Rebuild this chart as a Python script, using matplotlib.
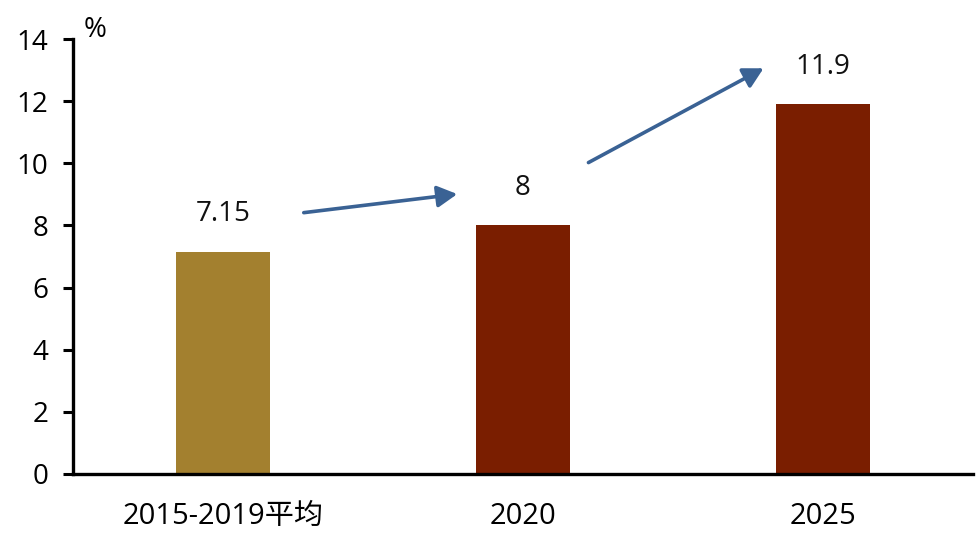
import matplotlib
matplotlib.use("Agg")
import matplotlib.pyplot as plt

plt.rcParams['font.family'] = ['Open Sans', 'Noto Sans CJK SC', 'DejaVu Sans']

categories = ["2015-2019平均", "2020", "2025"]
values = [7.15, 8, 11.9]
value_labels = ["7.15", "8", "11.9"]
colors = ["#A3802F", "#7A1E00", "#7A1E00"]
yticks = [0, 2, 4, 6, 8, 10, 12, 14]

fig = plt.figure(figsize=(9.79, 5.47), dpi=100)
ax = fig.add_axes([73/979, 73/547, 900/979, 435/547])

x = list(range(len(categories)))
ax.bar(x, values, width=0.315, color=colors)

for xi, v, lab in zip(x, values, value_labels):
    ax.annotate(lab, (xi, v), xytext=(0, 27), textcoords='offset points',
                ha='center', va='center', fontsize=20, color='#111111')

# trend arrows
arrow_kw = dict(arrowstyle='-|>,head_length=1.2,head_width=0.65', color='#3A6294', lw=2.6)
ax.annotate('', xy=(0.79, 9.02), xytext=(0.26, 8.40), arrowprops=arrow_kw)
ax.annotate('', xy=(1.81, 13.1), xytext=(1.21, 9.98), arrowprops=arrow_kw)

ax.set_xlim(-0.5, 2.5)
ax.set_ylim(0, 14)
ax.set_yticks(yticks)
ax.set_yticklabels([str(t) for t in yticks], fontsize=20)
ax.set_xticks(x)
ax.set_xticklabels(categories, fontsize=21)
ax.tick_params(axis='x', length=0, pad=20)
ax.tick_params(axis='y', direction='out', length=7, width=2.2, pad=11)

for s in ['top', 'right']:
    ax.spines[s].set_visible(False)
for s in ['left', 'bottom']:
    ax.spines[s].set_linewidth(2.4)

ax.text(0.012, 1.02, '%', transform=ax.transAxes, fontsize=20, ha='left', va='center')

fig.savefig('out.png', dpi=100)
